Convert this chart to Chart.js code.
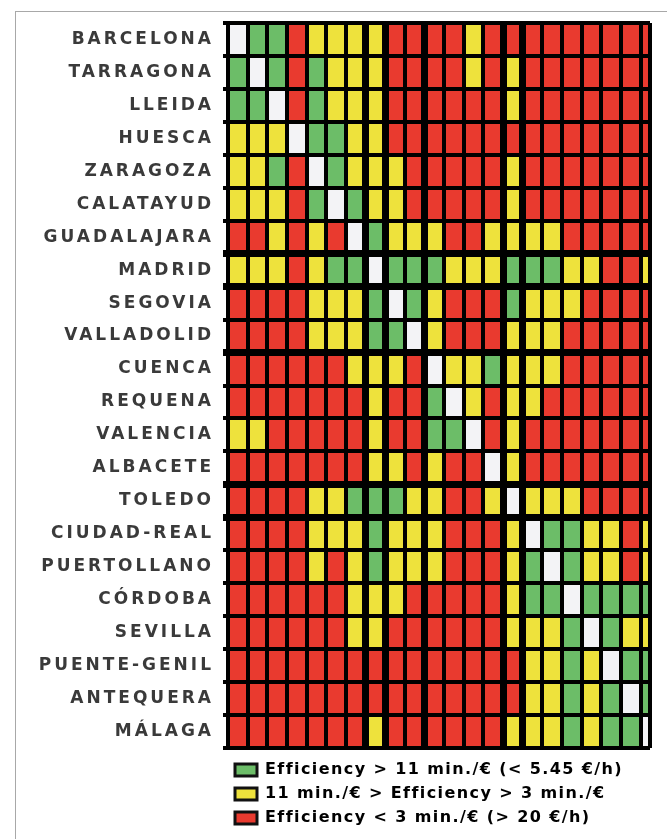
<!DOCTYPE html>
<html>
<head>
<meta charset="utf-8">
<script src="https://cdn.jsdelivr.net/npm/chart.js@4.4.1/dist/chart.umd.min.js"></script>
<style>
  html, body { margin: 0; padding: 0; background: #fff; overflow: hidden; }
  #wrap { position: relative; width: 667px; height: 839px; }
  #frame { position: absolute; left: 15px; top: 11px; width: 700px; height: 900px;
           border-left: 1px solid #a8a8a8; border-top: 1px solid #a8a8a8; pointer-events: none; }
  canvas { position: absolute; left: 0; top: 0; }
</style>
</head>
<body>
<div id="wrap">
  <canvas id="chart" width="667" height="846"></canvas>
  <div id="frame"></div>
</div>
<script>
// Cities, same order for rows (top to bottom) and columns (left to right)
const cities = [
  'BARCELONA', 'TARRAGONA', 'LLEIDA', 'HUESCA', 'ZARAGOZA', 'CALATAYUD', 'GUADALAJARA',
  'MADRID', 'SEGOVIA', 'VALLADOLID', 'CUENCA', 'REQUENA', 'VALENCIA', 'ALBACETE',
  'TOLEDO', 'CIUDAD-REAL', 'PUERTOLLANO', 'CÓRDOBA', 'SEVILLA', 'PUENTE-GENIL',
  'ANTEQUERA', 'MÁLAGA'
];

// one string per row, one letter per column
// G = efficiency > 11, Y = between 3 and 11, R = < 3, W = same city
const efficiency = [
  'WGGRYYYYRRRRYRRRRRRRRR',
  'GWGRGYYYRRRRYRYRRRRRRR',
  'GGWRGYYYRRRRRRYRRRRRRR',
  'YYYWGGYYRRRRRRRRRRRRRR',
  'YYGRWGYYYRRRRRYRRRRRRR',
  'YYYRGWGYYRRRRRYRRRRRRR',
  'RRYRYRWGYYYRRYYYYRRRRR',
  'YYYRYGGWGGGYYYGGGYYRRY',
  'RRRRYYYGWGYRRRGYYYRRRR',
  'RRRRYYYGGWYRRRYYYRRRRR',
  'RRRRRRYYYRWYYGYYYRRRRR',
  'RRRRRRRYRRGWYRYYRRRRRR',
  'YYRRRRRYRRGGWRYRRRRRRR',
  'RRRRRRRYYRYRRWYRRRRRRR',
  'RRRRYYGGGYYRRYWYYYRRRR',
  'RRRRYYYGYYYRRRYWGGYYRY',
  'RRRRYRYGYYYRRRYGWGYYRY',
  'RRRRRRYYYRRRRRYGGWGGGG',
  'RRRRRRYYRRRRRRYYYGWGYY',
  'RRRRRRRRRRRRRRRYYGYWGG',
  'RRRRRRRRRRRRRRRYYGYGWG',
  'RRRRRRRYRRRRRRYYYGYGGW'
];

const legendLabels = [
  'Efficiency > 11 min./€ (< 5.45 €/h)',
  '11 min./€ > Efficiency > 3 min./€',
  'Efficiency < 3 min./€ (> 20 €/h)'
];
const legendCodes = ['G', 'Y', 'R'];

// thick separators sit before these row / column indexes
const groupBreaks = [7, 8, 10, 14, 15];

const palette = { G: '#6cbd68', Y: '#eee23c', R: '#e93a2f', W: '#f3f3f6' };
const X_MAX = 21.48; // last column is cut off in the original

const datasets = cities.map((name, col) => ({
  label: name,
  data: cities.map(() => [col, col + 1]),
  backgroundColor: efficiency.map(row => palette[row[col]]),
  borderWidth: 0,
  grouped: false,
  barPercentage: 1,
  categoryPercentage: 1,
  clip: 0
}));

// letter spacing: legend a bit wider, city names much wider (stretched look)
const spacingPlugin = {
  id: 'spacing',
  afterLayout(chart) {
    chart.legend.left = 227;
  },
  beforeDraw(chart) {
    chart.ctx.letterSpacing = '1.4px';
  },
  afterDatasetsDraw(chart) {
    chart.ctx.letterSpacing = '3px';
  },
  afterDraw(chart) {
    chart.ctx.letterSpacing = '0px';
  }
};

new Chart(document.getElementById('chart'), {
  type: 'bar',
  data: { labels: cities, datasets },
  options: {
    indexAxis: 'y',
    responsive: false,
    animation: false,
    layout: { padding: { top: 23, right: 17, bottom: 10, left: 0 } },
    scales: {
      x: {
        type: 'linear',
        min: 0,
        max: X_MAX,
        afterBuildTicks: (scale) => {
          const ticks = cities.map((c, i) => ({ value: i }));
          ticks.push({ value: X_MAX });
          scale.ticks = ticks;
        },
        afterFit: (scale) => { scale.height = 6; },
        ticks: { display: false },
        grid: {
          z: 1,
          color: '#000',
          drawTicks: false,
          lineWidth: (ctx) => (ctx.tick && groupBreaks.includes(ctx.tick.value)) ? 7 : 4
        },
        border: { display: false }
      },
      y: {
        type: 'category',
        offset: true,
        afterFit: (scale) => { scale.width = 228; },
        ticks: {
          z: 2,
          autoSkip: false,
          padding: 9,
          color: '#3a3a3a',
          font: { family: 'DejaVu Sans', size: 17, weight: 'bold' }
        },
        grid: {
          z: 1,
          offset: true,
          color: '#000',
          tickLength: 5,
          lineWidth: (ctx) => groupBreaks.includes(ctx.index) ? 7 : 4
        },
        border: { display: false }
      }
    },
    plugins: {
      tooltip: { enabled: false },
      legend: {
        position: 'bottom',
        align: 'start',
        labels: {
          boxWidth: 22,
          boxHeight: 12,
          padding: 8,
          color: '#444',
          font: { family: 'DejaVu Sans', size: 16, weight: 'bold' },
          generateLabels: () => legendLabels.map((text, i) => ({
            text,
            fillStyle: palette[legendCodes[i]],
            strokeStyle: '#111',
            lineWidth: 3,
            hidden: false,
            datasetIndex: i
          }))
        }
      }
    }
  },
  plugins: [spacingPlugin]
});
</script>
</body>
</html>
